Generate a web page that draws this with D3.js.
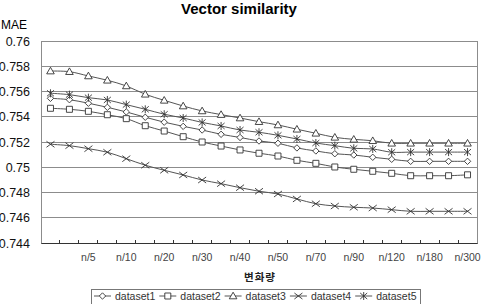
<!DOCTYPE html>
<html>
<head>
<meta charset="utf-8">
<script src="https://cdn.jsdelivr.net/npm/d3@7"></script>
<style>
  html, body { margin: 0; padding: 0; background: #fff; }
  svg { display: block; font-family: "Liberation Sans", Arial, sans-serif; }
</style>
</head>
<body>
<svg id="chart" width="486" height="304"></svg>
<script>
// 23 categories on the x axis, only every second one is labelled
const categories = d3.range(23);
const tickLabels = ["", "", "n/5", "", "n/10", "", "n/20", "", "n/30", "", "n/40", "", "n/50", "", "n/70", "", "n/90", "", "n/120", "", "n/180", "", "n/300"];
const yTicks = [0.744, 0.746, 0.748, 0.75, 0.752, 0.754, 0.756, 0.758, 0.76];

const dataset1 = [0.75546, 0.75535, 0.75507, 0.75475, 0.75438, 0.75396, 0.75357, 0.75324, 0.75295, 0.75261, 0.75236, 0.75208, 0.7519, 0.75153, 0.75129, 0.75107, 0.75097, 0.75079, 0.75063, 0.75047, 0.75047, 0.75047, 0.75047];
const dataset2 = [0.75467, 0.75459, 0.75443, 0.75416, 0.75385, 0.75329, 0.75287, 0.75242, 0.752, 0.75168, 0.75137, 0.75111, 0.75089, 0.75055, 0.75031, 0.75002, 0.74984, 0.74968, 0.74952, 0.74933, 0.74933, 0.74933, 0.7494];
const dataset3 = [0.75762, 0.75757, 0.75723, 0.75689, 0.75644, 0.75578, 0.7553, 0.75485, 0.75446, 0.75417, 0.7539, 0.75361, 0.75335, 0.75301, 0.75269, 0.75237, 0.75221, 0.7521, 0.7519, 0.7519, 0.7519, 0.7519, 0.7519];
const dataset4 = [0.75182, 0.75171, 0.75147, 0.75119, 0.75068, 0.75016, 0.74976, 0.74939, 0.74899, 0.7487, 0.74838, 0.7481, 0.74788, 0.74749, 0.74711, 0.74693, 0.74683, 0.74677, 0.74664, 0.74651, 0.74651, 0.74651, 0.74651];
const dataset5 = [0.75586, 0.75575, 0.75551, 0.75533, 0.75496, 0.75459, 0.7542, 0.7539, 0.75355, 0.75327, 0.75295, 0.75277, 0.75253, 0.75224, 0.75192, 0.75171, 0.7515, 0.75145, 0.75119, 0.7512, 0.7512, 0.7512, 0.7512];

const seriesNames = ["dataset1", "dataset2", "dataset3", "dataset4", "dataset5"];
const seriesMarkers = ["diamond", "square", "triangle", "times", "asterisk"];

const series = [dataset1, dataset2, dataset3, dataset4, dataset5].map((values, i) => ({
  name: seriesNames[i], marker: seriesMarkers[i], values
}));

const svg = d3.select("#chart");
const plotLeft = 41, plotRight = 477, plotTop = 41, plotBottom = 243;

const x = d3.scaleBand().domain(categories).range([plotLeft, plotRight]);
const y = d3.scaleLinear().domain([0.744, 0.76]).range([plotBottom, plotTop]);
const cx = i => x(i) + x.bandwidth() / 2;

// marker shapes, drawn around 0,0
function markerPath(type) {
  const p = d3.path();
  if (type === "square") {
    p.rect(-3, -3, 6, 6);
  } else if (type === "triangle") {
    p.moveTo(0, -3.8); p.lineTo(3.8, 2.8); p.lineTo(-3.8, 2.8); p.closePath();
  } else if (type === "diamond") {
    p.moveTo(0, -3.2); p.lineTo(3.2, 0); p.lineTo(0, 3.2); p.lineTo(-3.2, 0); p.closePath();
  } else if (type === "times") {
    p.moveTo(-4, -3); p.lineTo(4, 3); p.moveTo(-4, 3); p.lineTo(4, -3);
  } else if (type === "asterisk") {
    p.moveTo(-3.5, -3); p.lineTo(3.5, 3); p.moveTo(-3.5, 3); p.lineTo(3.5, -3);
    p.moveTo(0, -4); p.lineTo(0, 4);
  }
  return p.toString();
}
const hollow = t => t === "square" || t === "triangle" || t === "diamond";

// title
svg.append("text")
  .attr("x", 239).attr("y", 14)
  .attr("text-anchor", "middle")
  .attr("font-size", 15).attr("font-weight", "bold")
  .text("Vector similarity");

// y axis title
svg.append("text")
  .attr("x", 1).attr("y", 29)
  .attr("font-size", 12)
  .text("MAE");

// gridlines
svg.append("g")
  .selectAll("line")
  .data(yTicks)
  .join("line")
  .attr("x1", plotLeft).attr("x2", plotRight)
  .attr("y1", d => y(d)).attr("y2", d => y(d))
  .attr("stroke", "#8c8c8c").attr("stroke-width", 1)
  .attr("shape-rendering", "crispEdges");

// plot border
svg.append("rect")
  .attr("x", plotLeft).attr("y", plotTop)
  .attr("width", plotRight - plotLeft).attr("height", plotBottom - plotTop)
  .attr("fill", "none").attr("stroke", "#8c8c8c")
  .attr("shape-rendering", "crispEdges");

// y tick labels
svg.append("g")
  .selectAll("text")
  .data(yTicks)
  .join("text")
  .attr("x", 30).attr("y", d => y(d))
  .attr("dy", "0.36em")
  .attr("text-anchor", "end")
  .attr("font-size", 12.5)
  .attr("fill", "#111")
  .text(d => String(+d.toFixed(3)));

// x axis: ticks between categories, pointing inwards
const xAxis = d3.axisBottom(x)
  .tickSize(0)
  .tickFormat(i => tickLabels[i]);
const gx = svg.append("g")
  .attr("transform", `translate(0,${plotBottom})`)
  .call(xAxis);
gx.select(".domain").attr("stroke", "#333");
gx.selectAll("text")
  .attr("font-family", "Liberation Sans, Arial, sans-serif")
  .attr("font-size", 10.5)
  .attr("fill", "#444")
  .attr("y", 11);
gx.append("g")
  .selectAll("line")
  .data(categories.slice(1))
  .join("line")
  .attr("x1", d => x(d)).attr("x2", d => x(d))
  .attr("y1", 0).attr("y2", -3)
  .attr("stroke", "#333")
  .attr("shape-rendering", "crispEdges");

// x axis title
svg.append("text")
  .attr("x", (plotLeft + plotRight) / 2 + 1).attr("y", 281)
  .attr("text-anchor", "middle")
  .attr("font-family", "Noto Sans CJK KR, sans-serif")
  .attr("font-size", 10.5).attr("font-weight", "bold")
  .attr("letter-spacing", 1)
  .attr("fill", "#222")
  .text("변화량");

// lines
const line = d3.line()
  .x((d, i) => cx(i))
  .y(d => y(d))
  .curve(d3.curveCatmullRom.alpha(0.5));

const sg = svg.append("g")
  .selectAll("g")
  .data(series)
  .join("g");

sg.append("path")
  .attr("d", d => line(d.values))
  .attr("fill", "none")
  .attr("stroke", "#555")
  .attr("stroke-width", 1);

sg.each(function (s) {
  d3.select(this).selectAll("path.mk")
    .data(s.values)
    .join("path")
    .attr("class", "mk")
    .attr("transform", (d, i) => `translate(${cx(i)},${y(d)})`)
    .attr("d", markerPath(s.marker))
    .attr("fill", hollow(s.marker) ? "#fff" : "none")
    .attr("stroke", "#333")
    .attr("stroke-width", 0.9);
});

// legend
const legend = svg.append("g");
const legendBox = legend.append("rect")
  .attr("fill", "#fff").attr("stroke", "#777")
  .attr("shape-rendering", "crispEdges");
let lx = 94;
const ly = 296;
series.forEach(s => {
  const item = legend.append("g");
  item.append("line")
    .attr("x1", lx).attr("x2", lx + 17)
    .attr("y1", ly).attr("y2", ly)
    .attr("stroke", "#555");
  item.append("path")
    .attr("transform", `translate(${lx + 8.5},${ly})`)
    .attr("d", markerPath(s.marker))
    .attr("fill", hollow(s.marker) ? "#fff" : "none")
    .attr("stroke", "#333")
    .attr("stroke-width", 0.9);
  const t = item.append("text")
    .attr("x", lx + 21).attr("y", ly)
    .attr("dy", "0.36em")
    .attr("font-size", 10.5)
    .attr("fill", "#333")
    .text(s.name);
  lx += 21 + t.node().getComputedTextLength() + 4;
});
legendBox
  .attr("x", 91).attr("y", 289)
  .attr("width", lx - 91).attr("height", 15);
</script>
</body>
</html>
